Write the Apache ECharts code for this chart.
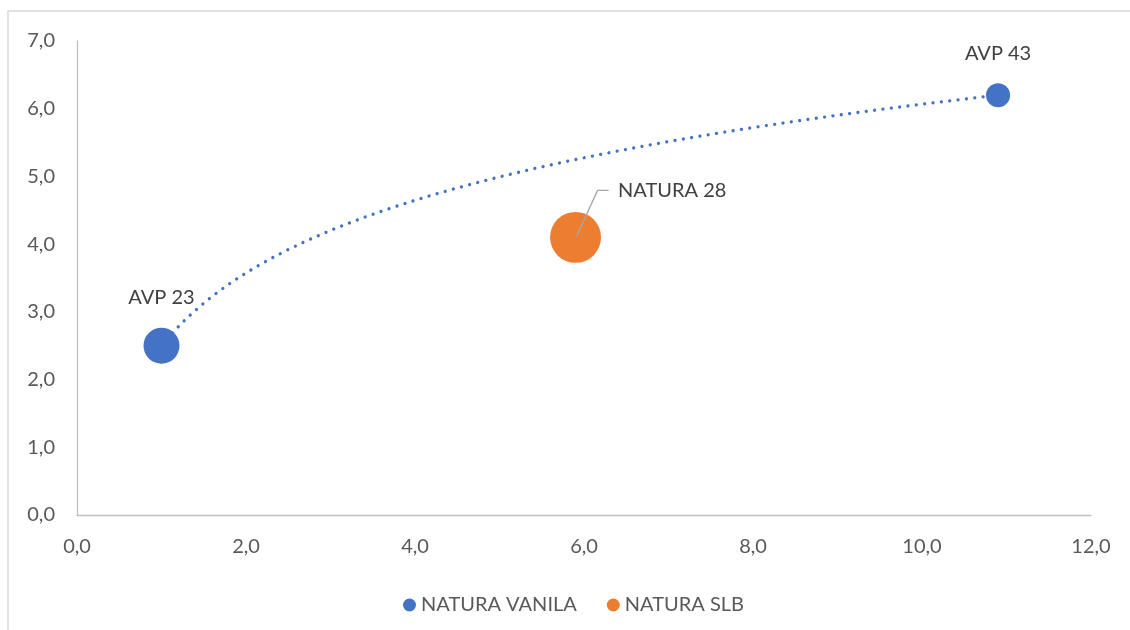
<!DOCTYPE html>
<html>
<head>
<meta charset="utf-8">
<script src="https://cdn.jsdelivr.net/npm/echarts@6/dist/echarts.min.js"></script>
<style>
  html, body { margin: 0; padding: 0; background: #fff; }
  #chart { width: 1130px; height: 630px; }
</style>
</head>
<body>
<div id="chart"></div>
<script>
// Series data: [x, y]
const vanilaPoints = [[1.0, 2.5], [10.9, 6.2]];
const vanilaLabels = ['AVP 23', 'AVP 43'];
const vanilaSizes = [1.3, 0.58];

const slbPoints = [[5.9, 4.1]];
const slbLabels = ['NATURA 28'];
const slbSizes = [2.6];

const seriesNames = ['NATURA VANILA', 'NATURA SLB'];
const xTicks = { min: 0, max: 12, interval: 2 };
const yTicks = { min: 0, max: 7, interval: 1 };

const BLUE = '#4472C4';
const ORANGE = '#ED7D31';
const FONT = 'Lato';
const FS = 20;

// bubble diameter scales with the square root of the size value (area-proportional)
const bubbleScale = 31.6;
const bubble = v => bubbleScale * Math.sqrt(v);

// Logarithmic least-squares trendline over the NATURA VANILA points
function logFit(points) {
  const n = points.length;
  let sx = 0, sy = 0, sxx = 0, sxy = 0;
  points.forEach(([x, y]) => {
    const lx = Math.log(x);
    sx += lx; sy += y; sxx += lx * lx; sxy += lx * y;
  });
  const a = (n * sxy - sx * sy) / (n * sxx - sx * sx);
  const b = (sy - a * sx) / n;
  return x => a * Math.log(x) + b;
}
const trend = logFit(vanilaPoints);
const xs = vanilaPoints.map(p => p[0]);
const tMin = Math.min(...xs), tMax = Math.max(...xs);
const trendData = [];
for (let i = 0; i <= 200; i++) {
  const x = tMin + (tMax - tMin) * i / 200;
  trendData.push([x, trend(x)]);
}

const fmt = v => v.toFixed(1).replace('.', ',');

const chart = echarts.init(document.getElementById('chart'), null, { renderer: 'canvas' });

const labelStyle = { color: '#404040', fontSize: FS, fontFamily: FONT };
const frame = {
  type: 'rect', silent: true, z: -1,
  shape: { x: 8, y: 11, width: 1140, height: 640 },
  style: { fill: 'none', stroke: '#D9D9D9', lineWidth: 1.5 }
};

chart.setOption({
  animation: false,
  backgroundColor: '#fff',
  textStyle: { fontFamily: FONT },
  grid: { left: 77, right: 39, top: 41, bottom: 115 },
  xAxis: {
    type: 'value', min: xTicks.min, max: xTicks.max, interval: xTicks.interval,
    axisLine: { show: true, lineStyle: { color: '#BFBFBF', width: 1.3 } },
    axisTick: { show: false },
    splitLine: { show: false },
    axisLabel: { formatter: fmt, color: '#595959', fontSize: FS, fontFamily: FONT, margin: 22 }
  },
  yAxis: {
    type: 'value', min: yTicks.min, max: yTicks.max, interval: yTicks.interval,
    axisLine: { show: true, lineStyle: { color: '#BFBFBF', width: 1.3 } },
    axisTick: { show: false },
    splitLine: { show: false },
    axisLabel: { formatter: fmt, color: '#595959', fontSize: FS, fontFamily: FONT, margin: 22 }
  },
  legend: {
    data: seriesNames,
    top: 590,
    left: 398,
    icon: 'circle',
    itemWidth: 13, itemHeight: 13, itemGap: 30,
    textStyle: { color: '#595959', fontSize: FS, fontFamily: FONT }
  },
  graphic: [frame],
  series: [
    {
      name: 'trend', type: 'line', data: trendData, showSymbol: false, silent: true,
      z: 1,
      lineStyle: { color: BLUE, width: 3.3, type: [0.01, 8.4], cap: 'round' }
    },
    {
      name: seriesNames[0], type: 'scatter', z: 3,
      data: vanilaPoints.map((p, i) => ({ value: p, symbolSize: bubble(vanilaSizes[i]), name: vanilaLabels[i] })),
      itemStyle: { color: BLUE, opacity: 1 },
      label: { show: true, position: 'top', distance: 20, formatter: p => p.name, ...labelStyle }
    },
    {
      name: seriesNames[1], type: 'scatter', z: 3,
      data: slbPoints.map((p, i) => ({ value: p, symbolSize: bubble(slbSizes[i]), name: slbLabels[i] })),
      itemStyle: { color: ORANGE, opacity: 1 },
      label: { show: true, position: 'right', offset: [12, -47], formatter: p => p.name, ...labelStyle }
    }
  ]
});

// Leader line from the NATURA 28 bubble centre to its label
const c = chart.convertToPixel({ seriesIndex: 2 }, slbPoints[0]);
chart.setOption({
  graphic: [frame, {
    type: 'polyline', silent: true, z: 10,
    shape: { points: [[c[0] + 1, c[1] - 1], [c[0] + 22, c[1] - 47], [c[0] + 33, c[1] - 47]] },
    style: { fill: 'none', stroke: '#A6A6A6', lineWidth: 1.3 }
  }]
});
</script>
</body>
</html>
